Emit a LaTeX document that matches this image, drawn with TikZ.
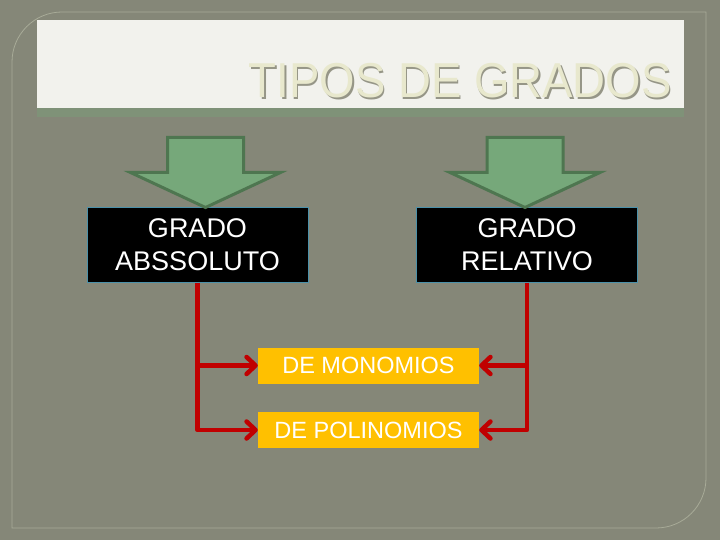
\documentclass[tikz,border=0pt]{standalone}
\usepackage{fontspec}
\setmainfont{Liberation Sans}
\usetikzlibrary{arrows.meta,positioning}
\definecolor{fondo}{RGB}{133,135,120}
\definecolor{marco}{RGB}{168,171,152}
\definecolor{barra}{RGB}{242,242,237}
\definecolor{crema}{RGB}{232,232,205}
\definecolor{sombra}{RGB}{150,150,135}
\definecolor{verde}{RGB}{118,168,122}
\definecolor{verdeosc}{RGB}{78,118,80}
\definecolor{borde}{RGB}{75,145,170}
\definecolor{naranja}{RGB}{255,192,0}
\definecolor{rojo}{RGB}{192,0,0}

\begin{document}
\begin{tikzpicture}[x=1pt,y=-1pt,
grado/.style={draw = borde, line width = 1pt, fill = black, text = white, align = center,
  minimum width = 221pt, minimum height = 74pt, inner sep = 0pt,
  font = \fontsize{27}{33}\selectfont},
tipo/.style={fill = naranja, text = white, minimum width = 221pt, minimum height = 36pt,
  inner sep = 0pt, font = \fontsize{23.5}{27}\selectfont},
flecha/.style={draw = rojo, line width = 4.5pt, line join = round,
  -{Straight Barb[length=9pt,width=17pt,round]}},
bloque/.style={draw = verdeosc, line width = 3pt, fill = verde, line join = miter}]
\useasboundingbox[fill = fondo] (0,0) rectangle (720,540);
\draw[draw = marco, line width = 0.8pt] (12,300) [rounded corners = 50pt] -- (12,12)
  [sharp corners] -- (706,12) -- (706,300) [rounded corners = 50pt] -- (706,528)
  [sharp corners] -- (12,528) -- cycle;
% title
\fill[fill = verde, opacity = 0.35] (37,108) rectangle (684,117);
\fill[fill = barra] (37,20) rectangle (684,108);
\node[anchor = base east, text = sombra, xscale = 0.93, font = \fontsize{49}{49}\selectfont] at (676.5,99.5) {TIPOS DE GRADOS};
\node[anchor = base east, text = crema, xscale = 0.93, font = \fontsize{49}{49}\selectfont] (titulo) at (675,98) {TIPOS DE GRADOS};
% boxes
\node[grado] (abs) at (197.5,245) {GRADO\\ABSSOLUTO};
\node[grado] (rel) at (527,245) {GRADO\\RELATIVO};
\node[tipo] (mono) at (368.5,365.5) {DE MONOMIOS};
\node[tipo] (poli) at (368.5,430) {DE POLINOMIOS};
\foreach \n/\d in {abs/8,rel/-2}{
\draw[bloque] ([xshift = \d pt]\n.north) -- ++(-75,-35) -- ++(37,0) -- ++(0,-35)
  -- ++(76,0) -- ++(0,35) -- ++(37,0) -- cycle;};
% connectors
\draw[flecha] (abs.south) |- (poli.west);
\draw[flecha] (rel.south) |- (poli.east);
\draw[flecha] (abs.south |- mono.west) -- (mono.west);
\draw[flecha] (rel.south |- mono.east) -- (mono.east);
\end{tikzpicture}
\end{document}
